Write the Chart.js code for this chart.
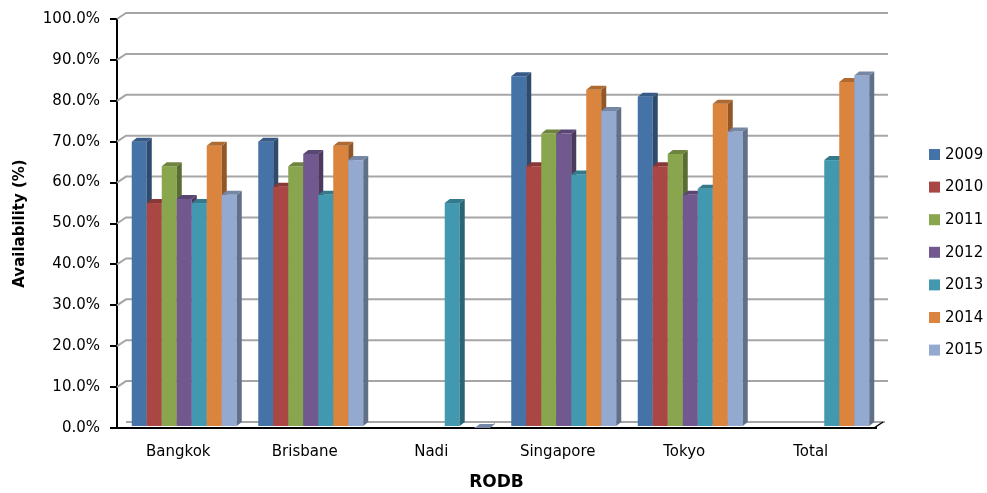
<!DOCTYPE html>
<html>
<head>
<meta charset="utf-8">
<script src="https://cdn.jsdelivr.net/npm/chart.js@4.4.1/dist/chart.umd.min.js"></script>
<style>
html,body{margin:0;padding:0;background:#fff;}
#wrap{width:987px;height:493px;}
</style>
</head>
<body>
<div id="wrap"><canvas id="c" width="987" height="493"></canvas></div>
<script>
const categories = ['Bangkok', 'Brisbane', 'Nadi', 'Singapore', 'Tokyo', 'Total'];
const years = ['2009', '2010', '2011', '2012', '2013', '2014', '2015'];
const v2009 = [70, 70, null, 86, 81, null];
const v2010 = [55, 59, null, 64, 64, null];
const v2011 = [64, 64, null, 72, 67, null];
const v2012 = [56, 67, null, 72, 57, null];
const v2013 = [55, 57, 55, 62, 58.5, 65.5];
const v2014 = [69, 69, null, 82.7, 79.3, 84.6];
const v2015 = [57, 65.5, 0, 77.5, 72.5, 86.2];
const colors = ['#4572A7', '#AA4643', '#89A54E', '#71588F', '#4198AF', '#DB843D', '#93A9CF'];
const seriesValues = [v2009, v2010, v2011, v2012, v2013, v2014, v2015];

const DX = 5, DY = 4;     // bar depth
const PX = 4;             // perspective shift of the bar row
const GX = 9, GY = 6;     // wall depth
const FONT = '"DejaVu Sans", sans-serif';

function shade(hex, f) {
  const n = parseInt(hex.slice(1), 16);
  let r = (n >> 16) & 255, g = (n >> 8) & 255, b = n & 255;
  r = Math.round(r * f); g = Math.round(g * f); b = Math.round(b * f);
  return `rgb(${r},${g},${b})`;
}

const walls = {
  id: 'walls',
  beforeDatasetsDraw(chart) {
    const { ctx, chartArea: a, scales: { y } } = chart;
    ctx.save();
    ctx.strokeStyle = '#a6a6a6';
    ctx.lineWidth = 2;
    y.ticks.forEach(t => {
      const py = y.getPixelForValue(t.value);
      if (t.value === 0) return;
      ctx.beginPath();
      ctx.moveTo(a.left, py);
      ctx.lineTo(a.left + GX, py - GY);
      ctx.lineTo(a.right + GX + 3, py - GY);
      ctx.stroke();
    });
    const by = y.getPixelForValue(0);
    ctx.beginPath();
    ctx.moveTo(a.left + GX, by - GY);
    ctx.lineTo(a.right + GX, by - GY);
    ctx.stroke();
    ctx.strokeStyle = '#000';
    ctx.lineWidth = 1.5;
    ctx.beginPath();
    ctx.moveTo(a.right - 2, by);
    ctx.lineTo(a.right + GX - 2, by - GY);
    ctx.stroke();
    ctx.restore();
  }
};

const bars3d = {
  id: 'bars3d',
  afterDatasetsDraw(chart) {
    const { ctx } = chart;
    ctx.save();
    for (let j = 0; j < categories.length; j++) {
      for (let i = 0; i < chart.data.datasets.length; i++) {
        const el = chart.getDatasetMeta(i).data[j];
        const val = chart.data.datasets[i].data[j];
        if (!el || val === null || val === undefined) continue;
        const c = colors[i];
        const l = el.x - el.width / 2 + PX, r = el.x + el.width / 2 + PX;
        const t = el.y, b = el.base - 1;
        ctx.fillStyle = c;
        ctx.fillRect(l, t, r - l, b - t);
        ctx.fillStyle = shade(c, 0.66);
        ctx.beginPath();
        ctx.moveTo(r, t); ctx.lineTo(r + DX, t - DY); ctx.lineTo(r + DX, b - DY); ctx.lineTo(r, b);
        ctx.closePath(); ctx.fill();
        ctx.fillStyle = shade(c, 0.8);
        ctx.beginPath();
        ctx.moveTo(l, t); ctx.lineTo(l + DX, t - DY); ctx.lineTo(r + DX, t - DY); ctx.lineTo(r, t);
        ctx.closePath(); ctx.fill();
      }
    }
    ctx.restore();
  }
};

const sideLegend = {
  id: 'sideLegend',
  afterDraw(chart) {
    const { ctx } = chart;
    ctx.save();
    ctx.font = '15px ' + FONT;
    ctx.textBaseline = 'middle';
    ctx.textAlign = 'left';
    chart.data.datasets.forEach((ds, i) => {
      const cy = 154.5 + i * 32.6;
      ctx.fillStyle = colors[i];
      ctx.fillRect(929, cy - 5.5, 11, 11);
      ctx.fillStyle = '#000';
      ctx.fillText(ds.label, 945, cy + 0.5);
    });
    ctx.restore();
  }
};

new Chart(document.getElementById('c'), {
  type: 'bar',
  data: {
    labels: categories,
    datasets: years.map((yr, i) => ({
      label: yr,
      data: seriesValues[i],
      backgroundColor: 'rgba(0,0,0,0)',
      borderWidth: 0,
      categoryPercentage: 0.83,
      barPercentage: 1.0
    }))
  },
  options: {
    responsive: false,
    animation: false,
    devicePixelRatio: 1,
    layout: { padding: { top: 18, right: 111, left: 0, bottom: 0 } },
    plugins: {
      tooltip: { enabled: false },
      legend: { display: false }
    },
    scales: {
      x: {
        afterFit: s => { s.height = 65; },
        grid: { display: false, drawTicks: false },
        border: { display: true, color: '#000', width: 2 },
        ticks: { color: '#000', font: { family: FONT, size: 15 }, padding: 15, labelOffset: -2 },
        title: { display: true, text: 'RODB', color: '#000', font: { family: FONT, size: 17, weight: 'bold' }, padding: { top: 4, bottom: 0 } }
      },
      y: {
        min: 0, max: 100,
        afterFit: s => { s.width = 117; },
        ticks: {
          stepSize: 10, color: '#000', padding: 10,
          font: { family: FONT, size: 15 },
          callback: v => v.toFixed(1) + '%'
        },
        grid: { drawOnChartArea: false, drawTicks: true, tickLength: 7, color: '#000', lineWidth: 2 },
        border: { display: true, color: '#000', width: 2 },
        title: { display: true, text: 'Availability (%)', color: '#000', font: { family: FONT, size: 15, weight: 'bold' }, padding: { top: 11, bottom: 0 } }
      }
    }
  },
  plugins: [walls, bars3d, sideLegend]
});
</script>
</body>
</html>
